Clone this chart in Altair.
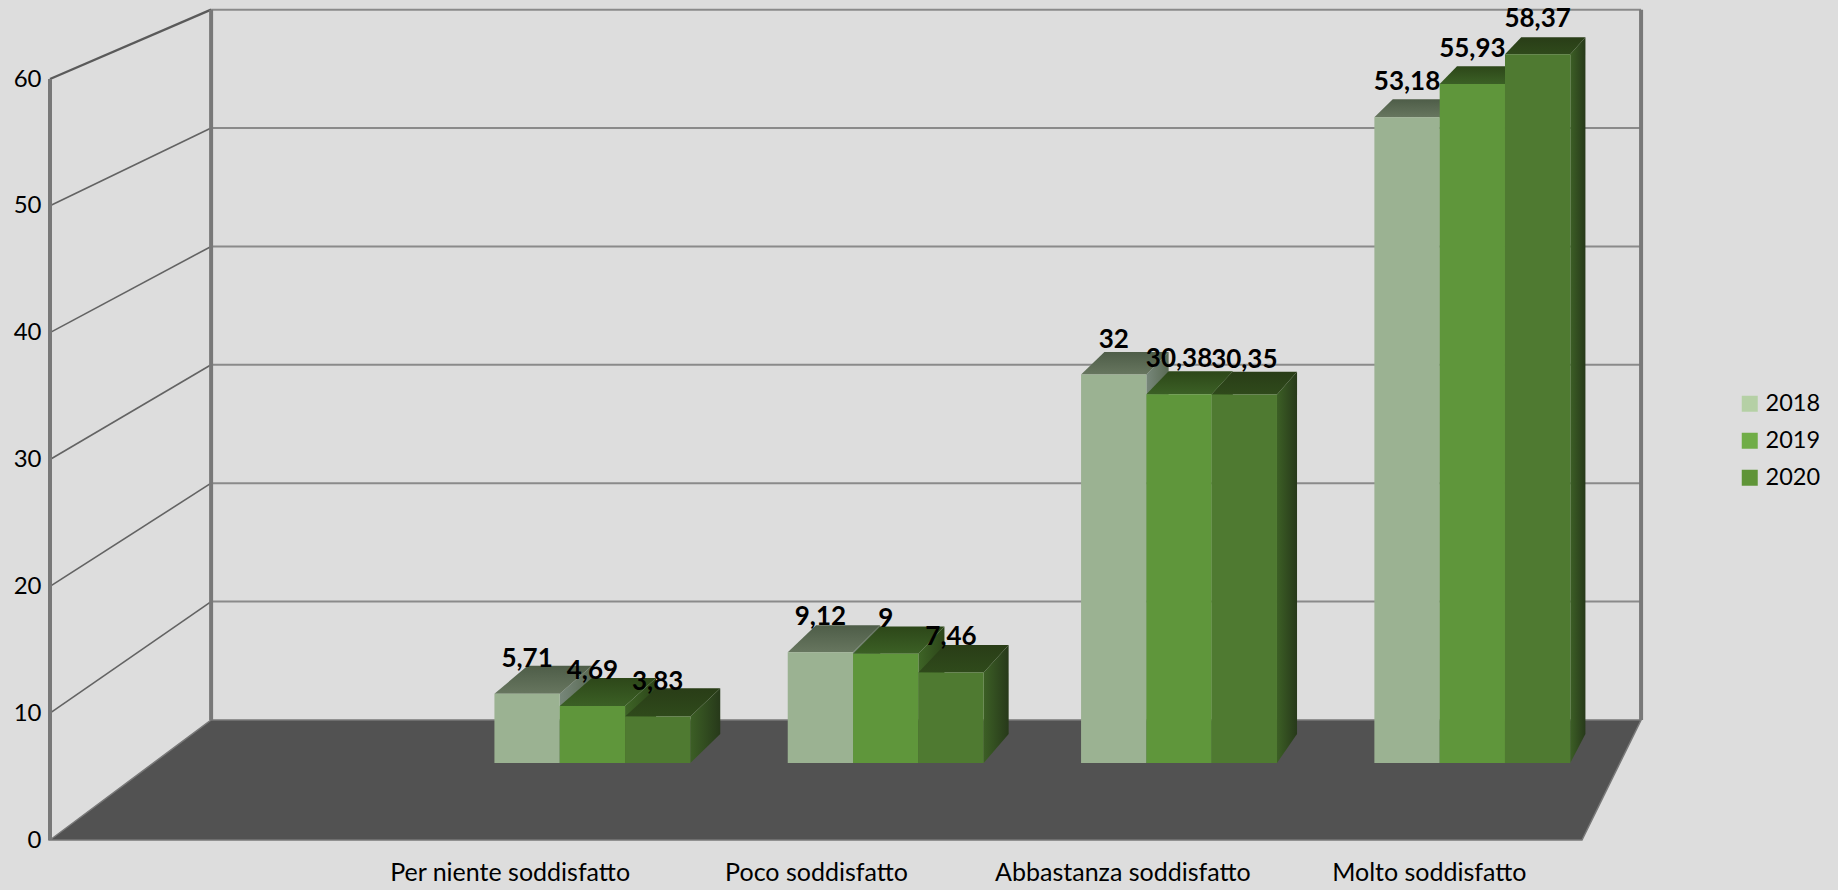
import json
import altair as alt
import pandas as pd

# Survey data: share of respondents per satisfaction level and year
categories = ["", "Per niente soddisfatto", "Poco soddisfatto", "Abbastanza soddisfatto", "Molto soddisfatto"]
years = ["2018", "2019", "2020"]
values_2018 = [5.71, 9.12, 32, 53.18]
values_2019 = [4.69, 9, 30.38, 55.93]
values_2020 = [3.83, 7.46, 30.35, 58.37]
series = [values_2018, values_2019, values_2020]
y_ticks = [0, 10, 20, 30, 40, 50, 60]

# Face colours of the bars, one entry per year
legend_colors = ["#B5D0A5", "#70AD47", "#5F9437"]
front_colors = ["#9BB292", "#5F963B", "#4F7A31"]
top_colors = [("#4E5D48", "#67765F"), ("#2D4719", "#3B6025"), ("#293D17", "#2F4A1B")]
side_colors = [("#77877A", "#5A6A54"), ("#3E6426", "#2C4519"), ("#3C5F25", "#27391A")]

FONT = "Lato"
Y_MAX = 60
SLOTS = len(categories)

# Perspective model, in data units: x in category slots, y in value units.
# A point at depth s is pulled towards the vanishing point by the factor s.
VX, VY = 7.895, 142.1
S_WALL = 0.9334
S_BAR_FRONT = 0.9573
S_BAR_BACK = 0.9412
GROUP_WIDTH = 0.668
GROUP_SHIFT = -0.003
BAR_WIDTH = GROUP_WIDTH / len(series)


def project(slot, value, s):
    return (VX + (slot - VX) * s, VY + (value - VY) * s)


def polygon_rows(points, key):
    """Turn a convex polygon into x / y / y2 rows for an area mark."""
    rows = []
    n = len(points)
    for x in sorted({round(p[0], 6) for p in points}):
        hits = []
        for i in range(n):
            (x0, y0), (x1, y1) = points[i], points[(i + 1) % n]
            lo, hi = min(x0, x1), max(x0, x1)
            if lo - 1e-6 <= x <= hi + 1e-6:
                if abs(x1 - x0) < 1e-6:
                    hits += [y0, y1]
                else:
                    hits.append(y0 + (y1 - y0) * (x - x0) / (x1 - x0))
        rows.append({"x": x, "y": max(hits), "y2": min(hits), "id": key})
    return rows


# The real axes hang off the same scales as the projected geometry
x_scale = alt.Scale(domain=[0, SLOTS], range="width", zero=False, nice=False)
y_scale = alt.Scale(domain=[0, Y_MAX], zero=False, nice=False)
x_axis = alt.Axis(
    values=[i + 0.5 for i in range(1, SLOTS)],
    labelExpr=f"{json.dumps(categories)}[floor(datum.value)]",
    title=None, domain=False, ticks=False, grid=False,
    labelFont=FONT, labelFontSize=25, labelColor="#000000", labelPadding=20,
    labelOverlap=False, labelFlush=False, labelLimit=500,
)
y_axis = alt.Axis(
    values=y_ticks, title=None, domain=False, ticks=False, grid=False,
    labelFont=FONT, labelFontSize=24, labelColor="#000000", labelPadding=9,
)
X_ = alt.X("x:Q", scale=x_scale, axis=x_axis)
Y_ = alt.Y("y:Q", scale=y_scale, axis=y_axis)


def area_layer(rows, fill, **mark_kw):
    return alt.Chart(pd.DataFrame(rows)).mark_area(color=fill, **mark_kw).encode(
        x=X_, y=Y_, y2="y2:Q", detail="id:N"
    )


def line_layer(rows, color, width):
    return alt.Chart(pd.DataFrame(rows)).mark_line(
        color=color, strokeWidth=width, strokeCap="butt"
    ).encode(x=X_, y=Y_, detail="id:N", order="o:Q")


def path_rows(points, key):
    return [{"x": p[0], "y": p[1], "id": key, "o": i} for i, p in enumerate(points)]


def gradient(c0, c1, horizontal):
    return alt.Gradient(
        gradient="linear",
        stops=[alt.GradientStop(color=c0, offset=0), alt.GradientStop(color=c1, offset=1)],
        x1=0, y1=0, x2=1 if horizontal else 0, y2=0 if horizontal else 1,
    )


# Walls: the gridlines run along the left wall, then across the back wall
left_grid, back_grid, top_edge = [], [], []
for v in y_ticks[1:]:
    a = project(0, v, 1)
    b = project(0, v, S_WALL)
    c = project(SLOTS, v, S_WALL)
    (top_edge if v == Y_MAX else left_grid).extend(path_rows([a, b], f"l{v}"))
    back_grid.extend(path_rows([b, c], f"b{v}"))

posts = []
for key, (slot, s) in enumerate([(0, 1), (0, S_WALL), (SLOTS, S_WALL)]):
    posts.extend(path_rows([project(slot, 0, s), project(slot, Y_MAX, s)], f"p{key}"))

floor_points = [project(0, 0, 1), project(SLOTS, 0, 1), project(SLOTS, 0, S_WALL), project(0, 0, S_WALL)]
layers = [
    line_layer(back_grid, "#8A8A8A", 2),
    line_layer(left_grid, "#636363", 1.6),
    line_layer(top_edge, "#5A5A5A", 2.4),
    line_layer(posts, "#787878", 4),
    area_layer(polygon_rows(floor_points, "floor"), "#525252", stroke="#787878", strokeWidth=1.5),
]

# Bars, painted left to right so each one hides the side of its neighbour
text_rows = []
for j, vals in enumerate(series):
    front_rows, top_rows, side_rows = [], [], []
    for i, v in enumerate(vals):
        x0 = (i + 1) + 0.5 - GROUP_WIDTH / 2 + GROUP_SHIFT + j * BAR_WIDTH
        x1 = x0 + BAR_WIDTH
        key = f"{j}-{i}"
        front_rows += polygon_rows(
            [project(x0, 0, S_BAR_FRONT), project(x1, 0, S_BAR_FRONT),
             project(x1, v, S_BAR_FRONT), project(x0, v, S_BAR_FRONT)], key)
        top_rows += polygon_rows(
            [project(x0, v, S_BAR_FRONT), project(x1, v, S_BAR_FRONT),
             project(x1, v, S_BAR_BACK), project(x0, v, S_BAR_BACK)], key)
        side_rows += polygon_rows(
            [project(x1, 0, S_BAR_FRONT), project(x1, 0, S_BAR_BACK),
             project(x1, v, S_BAR_BACK), project(x1, v, S_BAR_FRONT)], key)
        lx, ly = project((x0 + x1) / 2, v, S_BAR_FRONT)
        text_rows.append({"x": lx, "y": ly, "label": f"{v:g}".replace(".", ",")})
    layers += [
        area_layer(side_rows, gradient(*side_colors[j], True)),
        area_layer(top_rows, gradient(*top_colors[j], False)),
        area_layer(front_rows, front_colors[j]),
    ]

labels = alt.Chart(pd.DataFrame(text_rows)).mark_text(
    font=FONT, fontWeight="bold", fontSize=26, color="#000000",
    baseline="alphabetic", align="center", dy=-27,
).encode(x=X_, y=Y_, text="label:N")

legend_layer = alt.Chart(pd.DataFrame({"year": years})).mark_square(size=0).encode(
    x=alt.value(0), y=alt.value(0),
    color=alt.Color(
        "year:N",
        scale=alt.Scale(domain=years, range=legend_colors),
        legend=alt.Legend(
            title=None, orient="none", legendX=1688, legendY=313, padding=0,
            symbolType="square", symbolSize=256, symbolStrokeWidth=0, symbolOpacity=1,
            labelFont=FONT, labelFontSize=23.5, labelColor="#000000", labelOffset=4,
            rowPadding=12,
        ),
    ),
)

chart = alt.layer(*layers, labels, legend_layer).properties(
    width=1532,
    height=761,
    padding={"left": 50, "top": 79, "right": 256, "bottom": 50},
    autosize=alt.AutoSizeParams(type="none"),
    background="#DDDDDD",
).configure_view(stroke=None)

chart.save("out.html", embed_options={"renderer": "svg", "actions": False})
